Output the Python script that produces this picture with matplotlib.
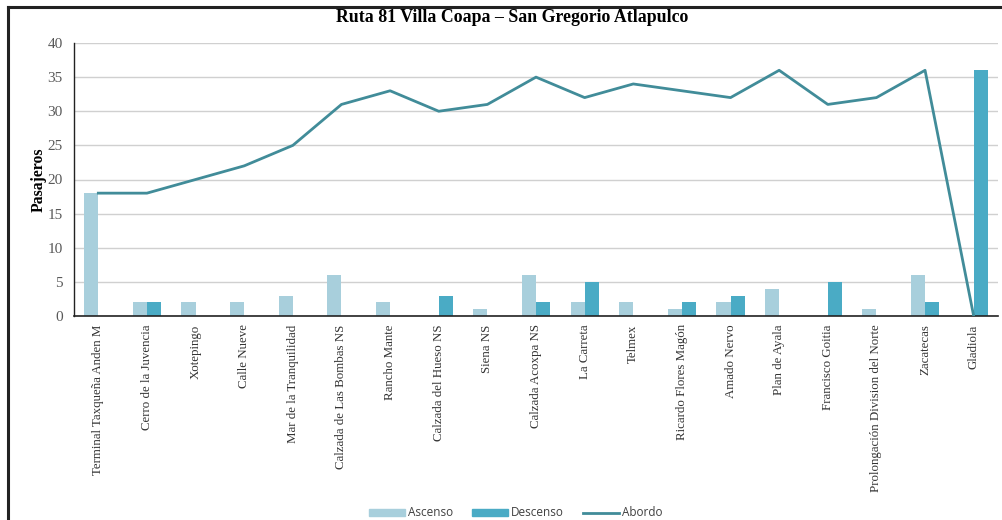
import matplotlib
matplotlib.use("Agg")
import matplotlib.pyplot as plt
import numpy as np
from matplotlib.lines import Line2D
from matplotlib.patches import Patch

categories = ["Terminal Taxqueña Anden M", "Cerro de la Juvencia", "Xotepingo",
              "Calle Nueve", "Mar de la Tranquilidad", "Calzada de Las Bombas NS",
              "Rancho Mante", "Calzada del Hueso NS", "Siena NS", "Calzada Acoxpa NS",
              "La Carreta", "Telmex", "Ricardo Flores Magón", "Amado Nervo",
              "Plan de Ayala", "Francisco Goitia", "Prolongación Division del Norte",
              "Zacatecas", "Gladiola"]
ascenso = [18, 2, 2, 2, 3, 6, 2, 0, 1, 6, 2, 2, 1, 2, 4, 0, 1, 6, 0]
descenso = [0, 2, 0, 0, 0, 0, 0, 3, 0, 2, 5, 0, 2, 3, 0, 5, 0, 2, 36]
abordo = [18, 18, 20, 22, 25, 31, 33, 30, 31, 35, 32, 34, 33, 32, 36, 31, 32, 36, 0]
yticks = [0, 5, 10, 15, 20, 25, 30, 35, 40]

c_asc = "#a8cfdc"
c_des = "#4aabc5"
c_abo = "#418c99"

fig = plt.figure(figsize=(10.03, 5.20), dpi=100)
ax = fig.add_axes([74/1003, 1-316/520, (998-74)/1003, (316-43)/520])

x = np.arange(len(categories))
w = 0.29
ax.bar(x - w/2, ascenso, width=w, color=c_asc, zorder=2)
ax.bar(x + w/2, descenso, width=w, color=c_des, zorder=2)
ax.plot(x, abordo, color=c_abo, lw=2.0, zorder=3)

ax.set_xlim(-0.5, len(categories) - 0.5)
ax.set_ylim(0, 40)
ax.set_yticks(yticks)
ax.set_yticklabels([str(v) for v in yticks], fontsize=11, color="#595959",
                   family=["Liberation Serif"])
ax.set_xticks(x)
ax.set_xticklabels(categories, rotation=90, fontsize=9.3, color="#333333",
                   family=["Liberation Serif"], va="top")
ax.tick_params(axis="both", length=0)
ax.tick_params(axis="y", pad=8)
ax.tick_params(axis="x", pad=6)
ax.grid(axis="y", color="#d0d0d0", lw=1, zorder=0)
for s in ["top", "right"]:
    ax.spines[s].set_visible(False)
ax.spines["left"].set_color("#222222")
ax.spines["bottom"].set_color("#222222")
ax.spines["left"].set_linewidth(1.0)
ax.spines["bottom"].set_linewidth(1.2)

ax.set_ylabel("Pasajeros", fontsize=11.3, fontweight="bold", family=["Liberation Serif"])
ax.yaxis.set_label_coords((47 - 74) / 924, 0.5)

fig.text(512/1003, 1-17/520, "Ruta 81 Villa Coapa – San Gregorio Atlapulco",
         ha="center", va="center", fontsize=12.8, fontweight="bold",
         family=["Liberation Serif"])

handles = [Patch(color=c_asc, label="Ascenso"),
           Patch(color=c_des, label="Descenso"),
           Line2D([0], [0], color=c_abo, lw=2, label="Abordo")]
leg = fig.legend(handles=handles, loc="center", bbox_to_anchor=(516/1003, 1-513/520),
                 ncol=3, frameon=False, handlelength=3.0, handleheight=0.6,
                 columnspacing=1.6, handletextpad=0.3, prop={"family": "Open Sans", "size": 8.5})
for t in leg.get_texts():
    t.set_color("#404040")

# frame lines (left and top)
fig.add_artist(Line2D([8/1003, 1.0], [1-6.5/520, 1-6.5/520], color="#222222", lw=2.2,
                      transform=fig.transFigure))
fig.add_artist(Line2D([8.5/1003, 8.5/1003], [0, 1-6.5/520], color="#222222", lw=2.2,
                      transform=fig.transFigure))

fig.savefig("out.png", dpi=100)
